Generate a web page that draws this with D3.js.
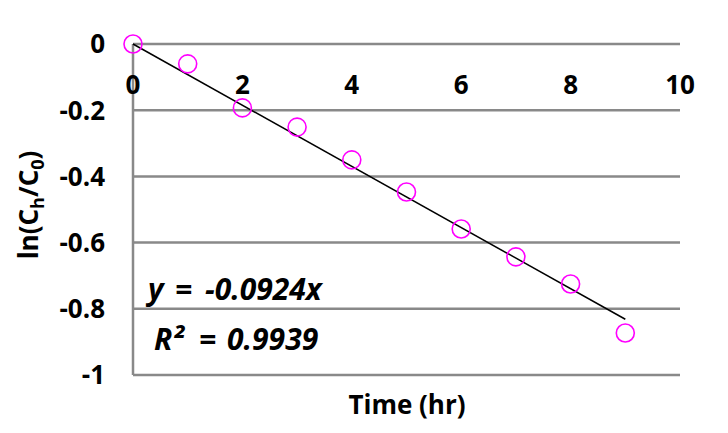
<!DOCTYPE html>
<html><head><meta charset="utf-8">
<script src="https://cdn.jsdelivr.net/npm/d3@7"></script>
<style>body{margin:0;background:#fff}svg{display:block}text{font-family:"Open Sans","Noto Sans",sans-serif;font-weight:bold;fill:#000}</style>
</head><body><svg id="c" width="728" height="433"></svg>
<script>
const timeHr = [0,1,2,3,4,5,6,7,8,9];
const lnRatio = [0,-0.06,-0.193,-0.251,-0.35,-0.447,-0.559,-0.643,-0.725,-0.873];
const slope = -0.0924;
const xTicks = [0,2,4,6,8,10];
const yTicks = [0,-0.2,-0.4,-0.6,-0.8,-1];
const eqParts = ["y", "=", "-0.0924x"];
const r2Parts = ["R²", "=", "0.9939"];

const svg = d3.select("#c");
const x = d3.scaleLinear().domain([0,10]).range([133,680]);
const y = d3.scaleLinear().domain([-1,0]).range([375,44]);

svg.append("g").selectAll("line").data(yTicks).join("line")
  .attr("x1",x(0)).attr("x2",x(10)).attr("y1",d=>y(d)).attr("y2",d=>y(d))
  .attr("stroke","#898989").attr("stroke-width",2.5);
svg.append("line").attr("x1",x(0)).attr("x2",x(0)).attr("y1",y(0)).attr("y2",y(-1))
  .attr("stroke","#898989").attr("stroke-width",2.5);

svg.append("g").selectAll("text").data(yTicks).join("text")
  .attr("x",105).attr("y",d=>y(d)).attr("dy","0.36em").attr("text-anchor","end")
  .style("font-size","26px").text(d=>String(d));
svg.append("g").selectAll("text").data(xTicks).join("text")
  .attr("x",d=>x(d)).attr("y",85).attr("dy","0.36em").attr("text-anchor","middle")
  .style("font-size","26px").text(d=>String(d));

svg.append("line").attr("x1",x(0)).attr("y1",y(0)).attr("x2",x(9)).attr("y2",y(slope*9))
  .attr("stroke","#000").attr("stroke-width",1.5);

svg.append("g").selectAll("circle").data(timeHr).join("circle")
  .attr("cx",(d)=>x(d)).attr("cy",(d,i)=>y(lnRatio[i])).attr("r",9)
  .attr("fill","none").attr("stroke","#ff00ff").attr("stroke-width",1.6);

const eq = svg.append("text").attr("y",300).style("font-style","italic").style("font-size","30px");
[148,175,205].forEach((px,i)=>eq.append("tspan").attr("x",px).text(eqParts[i]));
const r2 = svg.append("text").attr("y",350).style("font-style","italic").style("font-size","30px");
[154,199,227].forEach((px,i)=>r2.append("tspan").attr("x",px).text(r2Parts[i]));

svg.append("text").attr("x",407).attr("y",414).attr("text-anchor","middle").style("font-size","26px").text("Time (hr)");
const yt = svg.append("text").attr("transform","translate(38,205) rotate(-90)").attr("text-anchor","middle").style("font-size","26px");
yt.append("tspan").text("ln(C");
yt.append("tspan").attr("dy",6).style("font-size","18px").text("h");
yt.append("tspan").attr("dy",-6).text("/C");
yt.append("tspan").attr("dy",6).style("font-size","18px").text("0");
yt.append("tspan").attr("dy",-6).text(")");
</script></body></html>
